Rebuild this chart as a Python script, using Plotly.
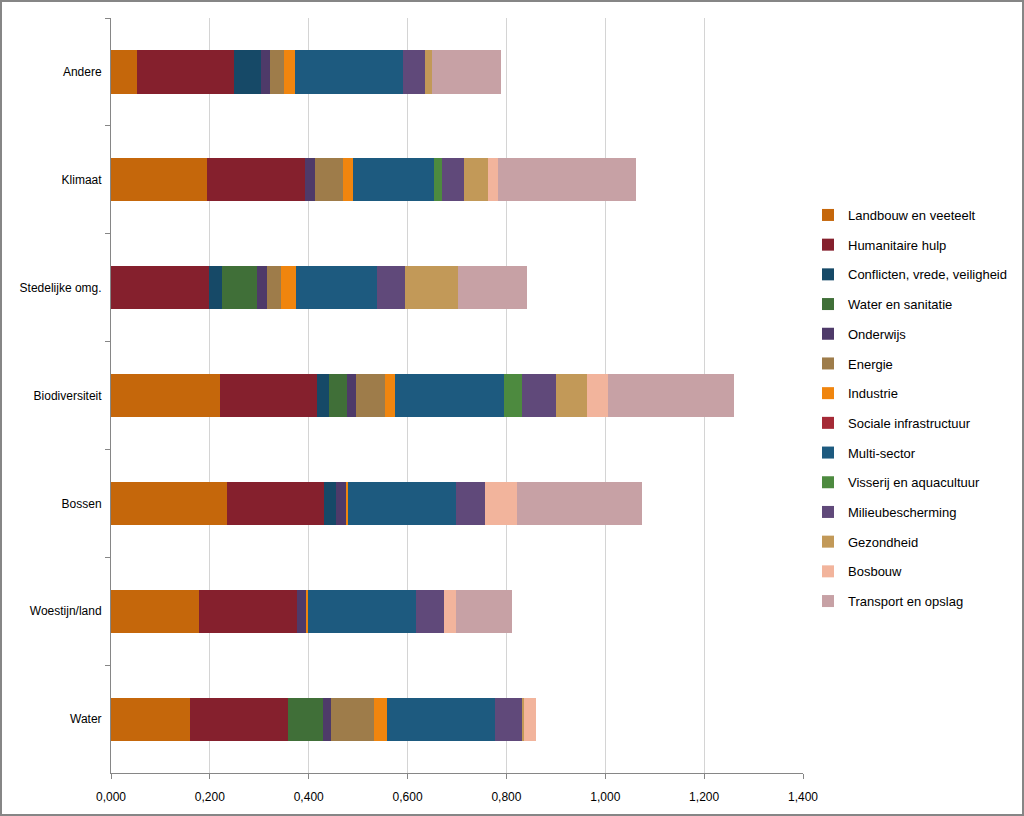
import plotly.graph_objects as go

categories = ["Andere", "Klimaat", "Stedelijke omg.", "Biodiversiteit", "Bossen", "Woestijn/land", "Water"]

series_names = [
    "Landbouw en veeteelt", "Humanitaire hulp", "Conflicten, vrede, veiligheid",
    "Water en sanitatie", "Onderwijs", "Energie", "Industrie", "Sociale infrastructuur",
    "Multi-sector", "Visserij en aquacultuur", "Milieubescherming", "Gezondheid",
    "Bosbouw", "Transport en opslag",
]

landbouw = [0.052, 0.195, 0.000, 0.220, 0.234, 0.178, 0.160]
humanitair = [0.197, 0.198, 0.199, 0.196, 0.197, 0.198, 0.198]
conflicten = [0.054, 0.000, 0.025, 0.026, 0.025, 0.000, 0.000]
water_san = [0.000, 0.000, 0.072, 0.036, 0.000, 0.000, 0.070]
onderwijs = [0.019, 0.020, 0.019, 0.018, 0.019, 0.018, 0.018]
energie = [0.028, 0.057, 0.028, 0.058, 0.000, 0.000, 0.087]
industrie = [0.022, 0.020, 0.032, 0.021, 0.005, 0.005, 0.026]
sociale = [0.000, 0.000, 0.000, 0.000, 0.000, 0.000, 0.000]
multisector = [0.218, 0.164, 0.164, 0.220, 0.218, 0.218, 0.218]
visserij = [0.000, 0.015, 0.000, 0.037, 0.000, 0.000, 0.000]
milieu = [0.045, 0.046, 0.055, 0.069, 0.059, 0.057, 0.056]
gezondheid = [0.014, 0.047, 0.108, 0.063, 0.000, 0.000, 0.003]
bosbouw = [0.000, 0.021, 0.000, 0.042, 0.065, 0.023, 0.024]
transport = [0.140, 0.279, 0.139, 0.255, 0.253, 0.115, 0.000]

series_values = [landbouw, humanitair, conflicten, water_san, onderwijs, energie, industrie,
                 sociale, multisector, visserij, milieu, gezondheid, bosbouw, transport]

colors = ["#C5670B", "#85202D", "#164967", "#406F38", "#4E3A69", "#9E7C4A", "#F0850E",
          "#A52A36", "#1D5A7F", "#4D8A3F", "#60497A", "#C29958", "#F2B49C", "#C7A1A5"]

x_ticks = [0, 0.2, 0.4, 0.6, 0.8, 1.0, 1.2, 1.4]

FONT = "Tahoma, Verdana, 'Liberation Sans', sans-serif"

fig = go.Figure()
for i, (name, vals, col) in enumerate(zip(series_names, series_values, colors)):
    fig.add_trace(go.Bar(
        y=categories, x=vals, name=name, orientation="h",
        marker=dict(color=col, line=dict(width=0)),
        legendgroup=f"g{i}",
    ))

W, H = 1024, 816
ml, mr, mt, mb = 111, 221, 18, 43
pw, ph = W - ml - mr, H - mt - mb

fig.update_layout(
    barmode="stack",
    bargap=0.6,
    width=W, height=H,
    margin=dict(l=ml, r=mr, t=mt, b=mb, pad=0, autoexpand=False),
    paper_bgcolor="white",
    plot_bgcolor="white",
    separators=",.",
    font=dict(family=FONT, size=12, color="#000000"),
    legend=dict(
        x=(808 - ml) / pw, y=1 - (200 - mt) / ph,
        xanchor="left", yanchor="top",
        traceorder="grouped",
        tracegroupgap=9.8,
        font=dict(family=FONT, size=13, color="#000000"),
        itemwidth=30,
        bgcolor="rgba(0,0,0,0)",
    ),
    xaxis=dict(
        range=[0, 1.4], tickvals=x_ticks, tickformat=".3f",
        showgrid=True, gridcolor="#D4D4D4", gridwidth=1,
        showline=True, linecolor="#868686", linewidth=1,
        ticks="outside", ticklen=5, tickcolor="#868686",
        ticklabelstandoff=8,
        zeroline=False, fixedrange=True,
    ),
    yaxis=dict(
        categoryorder="array", categoryarray=categories,
        autorange="reversed",
        showline=True, linecolor="#868686", linewidth=1,
        ticks="outside", ticklen=5, tickcolor="#868686",
        tickson="boundaries", ticklabelstandoff=6,
        showgrid=False, zeroline=False,
    ),
    shapes=[dict(
        type="rect", xref="paper", yref="paper",
        x0=(1 - ml) / pw, x1=(W - 1 - ml) / pw,
        y0=1 + (mt - 1) / ph, y1=-(mb - 1) / ph,
        line=dict(color="#868686", width=2), fillcolor="rgba(0,0,0,0)", layer="above",
    )],
)

fig.write_html(
    "out.html",
    config={"displayModeBar": False},
    post_script="document.body.style.margin='0';document.body.style.overflow='hidden';",
)
